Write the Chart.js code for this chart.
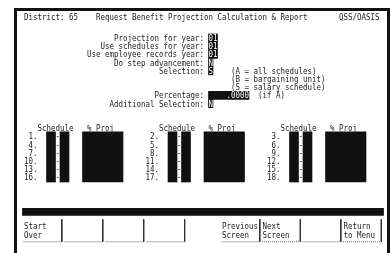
<!DOCTYPE html>
<html>
<head>
<meta charset="utf-8">
<title>Request Benefit Projection</title>
<script src="https://cdn.jsdelivr.net/npm/chart.js@4"></script>
<style>
  html, body { margin: 0; padding: 0; background: #fff; }
  #wrap { position: relative; width: 391px; height: 253px; overflow: hidden; }
  #frame { position: absolute; left: 14px; top: 8px; width: 370px; height: 260px;
           border: 3px solid #111; border-bottom: none; pointer-events: none; }
</style>
</head>
<body>
<div id="wrap">
  <canvas id="screen" width="391" height="253"></canvas>
  <div id="frame"></div>
</div>
<script>
// screen contents
const title = 'District: 65    Request Benefit Projection Calculation & Report       QSS/OASIS';
const promptLabels = ['Projection for year:', 'Use schedules for year:', 'Use employee records year:',
  'Do step advancement:', 'Selection:', 'Percentage:', 'Additional Selection:'];
const promptValues = ['01', '01', '01', 'N', 'S', '    .0000', 'N'];
const selectionNotes = ['(A = all schedules)', '(B = bargaining unit)', '(S = salary schedule)'];
const percentNote = '(if A)';
const scheduleHeaders = ['Schedule', '% Proj'];
const scheduleNumbers = [1, 2, 3, 4, 5, 6, 7, 8, 9, 10, 11, 12, 13, 14, 15, 16, 17, 18];
const keyLabels = [['Start', 'Over'], [], [], [], null, ['Previous', 'Screen'], ['Next', 'Screen'], [], ['Return', 'to Menu']];

// terminal grid (columns / rows) -> pixels
const COL_PX = 4.5, ROW_PX = 8.2, ORIGIN_X = 24, ORIGIN_Y = 21.6;
const W = 391, H = 253;
const INK = '#1b1b1b', FIELD = '#111';

const promptRows = [2, 3, 4, 5, 6, 9, 10];
const FIELD_COL = 41, LABEL_END = 40;
const GROUP_STEP = 27, HEADER_ROW = 13, LIST_ROW = 14, LIST_LEN = 6;
const KEY_BAR_ROW = 23.2, KEY_TOP = 24.1, KEY_BOTTOM = 26.85, KEY_TEXT = [24.9, 26.0];

function keyCol(i) { return i < 5 ? i * 9.1 : i * 9 - 1; }

const groups = [0, 1, 2];
const listMid = LIST_ROW + (LIST_LEN - 1) / 2;

const fieldBars = promptValues.map((v, i) => ({ y: promptRows[i], x: [FIELD_COL, FIELD_COL + v.length] }));
const scheduleBars = [];
groups.forEach(g => {
  const c = 5 + g * GROUP_STEP;
  scheduleBars.push({ y: listMid, x: [c, c + 2] });
  scheduleBars.push({ y: listMid, x: [c + 3, c + 5] });
});
const projBars = groups.map(g => ({ y: listMid, x: [13 + g * GROUP_STEP, 22 + g * GROUP_STEP] }));

const datasets = [
  { label: 'fields', data: fieldBars, backgroundColor: FIELD, barThickness: 8, grouped: false },
  { label: 'schedule', data: scheduleBars, backgroundColor: FIELD, barThickness: LIST_LEN * ROW_PX + 1, grouped: false },
  { label: 'proj', data: projBars, backgroundColor: FIELD, barThickness: LIST_LEN * ROW_PX + 1, grouped: false },
  { label: 'keybar', data: [{ y: KEY_BAR_ROW, x: [-0.35, 79.9] }], backgroundColor: FIELD, barThickness: 7, grouped: false }
];

keyLabels.forEach((k, i) => {
  if (k === null) return;
  const sep = keyCol(i) + 8.4;
  datasets.push({
    type: 'line', data: [{ x: sep, y: KEY_TOP }, { x: sep, y: KEY_BOTTOM }],
    borderColor: '#333', borderWidth: 1, pointRadius: 0, fill: false
  });
  datasets.push({
    type: 'line', data: [{ x: keyCol(i) - 0.1, y: KEY_BOTTOM }, { x: sep, y: KEY_BOTTOM }],
    borderColor: '#666', borderWidth: 1, borderDash: [1, 1], pointRadius: 0, fill: false
  });
});

const screenText = {
  id: 'screenText',
  afterDatasetsDraw(chart) {
    const { ctx, scales: { x, y } } = chart;
    const cell = x.getPixelForValue(1) - x.getPixelForValue(0);
    ctx.save();
    ctx.font = '9.5px "DejaVu Sans Mono"';
    ctx.textBaseline = 'middle';
    const sx = cell / ctx.measureText('M').width;

    function put(str, col, row, color) {
      ctx.save();
      ctx.fillStyle = color || INK;
      ctx.translate(x.getPixelForValue(col), y.getPixelForValue(row) + 0.5);
      ctx.scale(sx, 1);
      ctx.fillText(str, 0, 0);
      ctx.restore();
    }

    put(title, 0, -0.5);
    promptLabels.forEach((t, i) => put(t, LABEL_END - t.length, promptRows[i]));
    promptValues.forEach((v, i) => put(v, FIELD_COL, promptRows[i], '#fff'));
    selectionNotes.forEach((t, i) => put(t, 46, 6 + i));
    put(percentNote, 52, 9);

    groups.forEach(g => {
      const off = g * GROUP_STEP;
      put(scheduleHeaders[0], 3 + off, HEADER_ROW);
      put(scheduleHeaders[1], 14 + off, HEADER_ROW);
      for (let r = 0; r < LIST_LEN; r++) {
        const s = scheduleNumbers[r * 3 + g] + '.';
        put(s, 3 + off - s.length, LIST_ROW + r);
        put('-', 7 + off, LIST_ROW + r);
      }
    });

    keyLabels.forEach((k, i) => {
      if (!k) return;
      k.forEach((t, j) => put(t, keyCol(i), KEY_TEXT[j]));
    });
    ctx.restore();
  }
};

new Chart(document.getElementById('screen'), {
  type: 'bar',
  data: { datasets },
  options: {
    indexAxis: 'y',
    responsive: false,
    animation: false,
    events: [],
    layout: { padding: 0 },
    borderSkipped: false,
    scales: {
      x: { type: 'linear', display: false, offset: false, min: -ORIGIN_X / COL_PX, max: (W - ORIGIN_X) / COL_PX },
      y: { type: 'linear', display: false, offset: false, reverse: true, min: -ORIGIN_Y / ROW_PX, max: (H - ORIGIN_Y) / ROW_PX }
    },
    plugins: { legend: { display: false }, tooltip: { enabled: false } }
  },
  plugins: [screenText]
});
</script>
</body>
</html>
